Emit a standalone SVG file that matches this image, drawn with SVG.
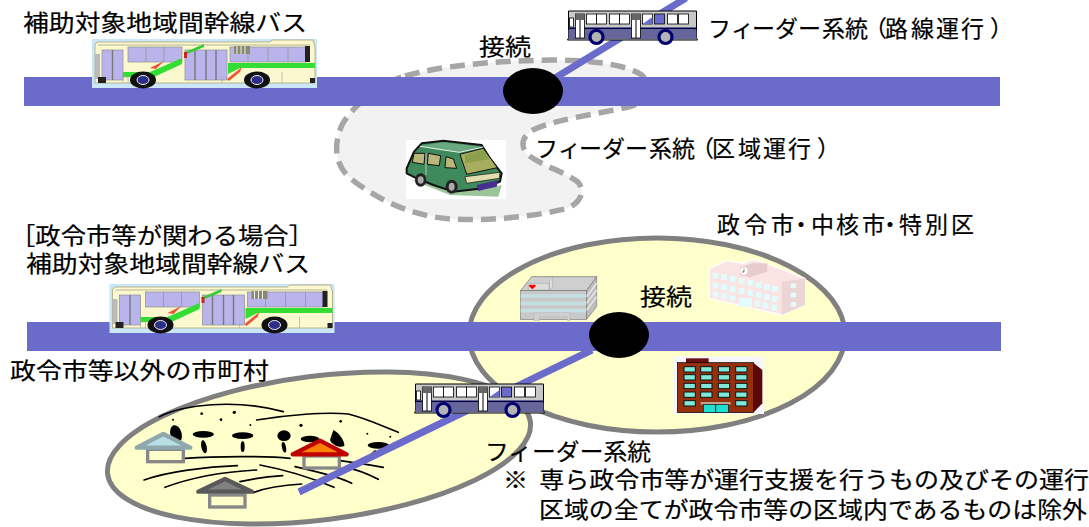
<svg xmlns="http://www.w3.org/2000/svg" width="1089" height="527" viewBox="0 0 1089 527">
<style>
text{font-family:"Noto Sans CJK JP","Noto Sans CJK SC",sans-serif;font-size:23px;fill:#000;stroke:#000;stroke-width:.2}
.route{fill:#6b6bcc}
.feeder{stroke:#6b6bcc;stroke-width:7;fill:none}
.junction{fill:#000}
.area{fill:#ffffcc;stroke:#808080;stroke-width:5}
.ln{fill:none;stroke:#000;stroke-width:5;stroke-linecap:round}
.win{fill:#fff;stroke:#000;stroke-width:.8}
.gw{fill:#b9b5ec;stroke:#8f8f8f;stroke-width:.7}
</style>
<defs>
<g id="trunkBus">
<rect width="225" height="49" fill="#cbe6f6"/>
<path d="M3,5 L6,3 L178,3 L180,1 L221,1 L223,8 L223,44 L3,44 Z" fill="#fbf7cf" stroke="#a9a57f" stroke-width=".8"/>
<path d="M6,6H218" stroke="#a9a57f" stroke-width=".8"/>
<rect x="36" y="8" width="54" height="15" class="gw"/>
<rect x="138" y="8" width="76" height="15" class="gw"/>
<path d="M54,8V23M72,8V23M156,8V23M176,8V23M196,8V23" stroke="#8f8f8f" stroke-width=".7"/>
<rect x="142" y="7" width="16" height="8" fill="#8a8a70"/>
<path d="M145,7V15M149,7V15M153,7V15" stroke="#eee" stroke-width="1"/>
<rect x="213" y="7" width="5" height="16" fill="#222"/>
<rect x="10" y="11" width="21" height="30" class="gw"/>
<rect x="93" y="11" width="42" height="30" class="gw"/>
<path d="M20.500,11V41M103,11V41M114,11V41M124,11V41" stroke="#777" stroke-width="1.400"/>
<path d="M136,24H223V29H148L136,35Z" fill="#33dd33"/>
<path d="M31,33L58,33L90,19V25L62,38L31,38Z" fill="#33dd33"/>
<path d="M58,29L72,22L64,30Z" fill="#ee5533"/>
<path d="M91,14L112,5L112,8L95,15Z" fill="#33cc33"/>
<path d="M135,40L150,28L148,33L137,42Z" fill="#ee5533"/>
<path d="M31,44V38H36V44M130,38V44M190,33V44M155,38V44" stroke="#aaa" stroke-width=".7" fill="none"/>
<path d="M3,15H8V40H3Z" fill="#bbb"/>
<rect x="6" y="38" width="8" height="6" fill="#222"/>
<rect x="218" y="39" width="5" height="5" fill="#222"/>
<rect x="92" y="13" width="3" height="6" fill="#c22"/>
<ellipse cx="51" cy="41" rx="13" ry="8.500" fill="#111"/>
<ellipse cx="51" cy="41" rx="6" ry="4.500" fill="#2d2d8a" stroke="#eee"/>
<ellipse cx="165" cy="41" rx="13" ry="8.500" fill="#111"/>
<ellipse cx="165" cy="41" rx="6" ry="4.500" fill="#2d2d8a" stroke="#eee"/>
</g>
<g id="feederBus">
<path d="M1,0H129V27L130,29H0L1,27Z" fill="#c8c8c8" stroke="#000" stroke-width="1"/>
<path d="M1,19H129V28H1Z" fill="#66669a"/>
<path d="M1,17.500H129" stroke="#000050" stroke-width="2"/>
<rect x="2" y="7" width="4" height="9" class="win"/>
<rect x="19" y="3" width="10" height="10" class="win"/><rect x="29" y="3" width="10" height="10" class="win"/>
<rect x="42" y="3" width="10" height="10" class="win"/><rect x="52" y="3" width="10" height="10" class="win"/>
<rect x="75" y="3" width="10" height="10" class="win"/><rect x="87" y="3" width="10" height="10" fill="#6b6bcc" stroke="#000" stroke-width=".8"/>
<path d="M75,13L85,6V13Z" fill="#6b6bcc"/>
<rect x="100" y="3" width="10" height="10" class="win"/><rect x="111" y="3" width="10" height="10" class="win"/>
<rect x="8" y="3" width="9" height="24" fill="#fff" stroke="#000" stroke-width=".8"/>
<rect x="64" y="3" width="9" height="24" fill="#fff" stroke="#000" stroke-width=".8"/>
<path d="M12.500,3V27M68.500,3V27" stroke="#000" stroke-width="1"/>
<path d="M8,3H17V9H8ZM64,3H73V9H64Z" fill="#666"/>
<circle cx="29" cy="26" r="6.500" fill="#b4b4b4" stroke="#000070" stroke-width="3.200"/>
<circle cx="98" cy="26" r="6.500" fill="#b4b4b4" stroke="#000070" stroke-width="3.200"/>
</g>
</defs>

<g id="area-demand">
<path d="M405,76 C440,66 490,61 550,60 C590,60 625,64 642,75 C650,85 650,100 632,106 C600,114 560,118 535,129 C522,135 520,146 527,154 C540,165 565,172 578,182 C586,192 580,204 565,209 C530,217 490,221 450,219 C410,216 375,198 350,178 C335,165 333,145 342,125 C350,110 375,85 405,76 Z" fill="#f2f2f2" stroke="#a6a6a6" stroke-width="5.500" stroke-dasharray="15 8"/>
</g>
<g id="area-city"><ellipse cx="657" cy="335" rx="188" ry="97" class="area"/></g>
<g id="area-town"><ellipse cx="319" cy="448" rx="213" ry="72" transform="rotate(-7 319 448)" class="area"/></g>

<g id="village" transform="translate(100 370) scale(.33333)">
<path class="ln" d="M178,140 C250,105 400,85 550,125"/>
<path class="ln" d="M470,150 C560,135 680,125 745,132 C800,145 850,170 895,187"/>
<path class="ln" d="M255,265 C350,258 500,258 570,265"/>
<path class="ln" d="M720,272 C770,278 810,285 850,292"/>
<path class="ln" d="M132,330 C200,305 320,290 412,287"/>
<path class="ln" d="M195,352 C280,320 380,305 470,300"/>
<path class="ln" d="M420,335 C450,328 500,320 548,317"/>
<path class="ln" d="M460,368 C500,352 550,345 605,342"/>
<path class="ln" d="M480,285 C560,300 650,330 702,352"/>
<path class="ln" d="M585,290 C650,305 720,320 755,340"/>
<path class="ln" d="M745,295 C780,300 810,315 835,328"/>
<g fill="#000">
<circle cx="305" cy="131" r="4"/><circle cx="403" cy="127" r="5"/><circle cx="363" cy="149" r="4"/><circle cx="219" cy="149" r="3"/><circle cx="451" cy="165" r="3"/><circle cx="603" cy="166" r="5"/><circle cx="722" cy="154" r="4"/><circle cx="802" cy="191" r="3"/><circle cx="871" cy="200" r="3"/>
<ellipse cx="228" cy="192" rx="17" ry="27" transform="rotate(-15 228 192)"/>
<ellipse cx="310" cy="193" rx="32" ry="10"/><ellipse cx="428" cy="197" rx="32" ry="10"/>
<ellipse cx="552" cy="197" rx="20" ry="16"/><ellipse cx="630" cy="207" rx="28" ry="10"/>
<path d="M700,180 C720,190 735,215 733,228 C720,235 695,225 690,210Z"/>
<ellipse cx="835" cy="226" rx="32" ry="10"/>
<ellipse cx="312" cy="230" rx="8" ry="20" transform="rotate(-12 312 230)"/>
<ellipse cx="428" cy="230" rx="6" ry="16"/><ellipse cx="552" cy="232" rx="6" ry="16" transform="rotate(-12 552 232)"/>
<path d="M800,262 L825,240 L830,244 L810,265Z"/>
</g>
<g id="house-teal"><rect x="143" y="238" width="107" height="37" fill="#ffffcc" stroke="#888" stroke-width="10"/><path d="M110,233 L190,192 L271,233Z" fill="#b8e0e4" stroke="#8fa8ad" stroke-width="13" stroke-linejoin="round"/></g>
<g id="house-red"><rect x="612" y="258" width="106" height="36" fill="#ffffcc" stroke="#888" stroke-width="10"/><path d="M578,253 L660,212 L740,253Z" fill="#ff8000" stroke="#c00000" stroke-width="13" stroke-linejoin="round"/></g>
<g id="house-gray"><rect x="329" y="375" width="106" height="36" fill="#ffffcc" stroke="#888" stroke-width="10"/><path d="M295,365 L375,327 L456,365Z" fill="#808080" stroke="#595959" stroke-width="13" stroke-linejoin="round"/></g>
</g>

<g id="van" transform="translate(400 135) scale(.33333)">
<rect x="18" y="15" width="300" height="177" fill="#fff"/>
<path d="M35,135 L250,165 L305,150 L295,185 L150,180Z" fill="#9cc49a"/>
<path d="M20,100 L42,50 L65,25 L130,17 L245,30 L270,70 L305,115 L300,140 L250,160 L160,170 L100,150 L50,130 L20,115Z" fill="#3f8a5c" stroke="#111" stroke-width="6" stroke-linejoin="round"/>
<path d="M62,32 L130,22 L242,35 L178,52 L110,44Z" fill="#6aa880"/>
<path d="M60,34 L178,52 L250,36" fill="none" stroke="#e8f2e8" stroke-width="3"/>
<path d="M42,55 L75,55 L72,88 L37,82Z M85,55 L122,62 L118,92 L82,88Z M138,65 L160,72 L170,100 L135,98Z" fill="#b9b77a" stroke="#111" stroke-width="3"/>
<path d="M180,58 L250,40 L292,98 L200,118Z" fill="#a8ae5e" stroke="#111" stroke-width="3"/>
<path d="M195,60 L250,44 L270,72 L195,85Z" fill="#8d9f4c"/>
<path d="M78,55V120" stroke="#e8f2e8" stroke-width="2"/>
<path d="M195,125 L300,112 L298,130 L200,145Z" fill="#e3dcae" stroke="#111" stroke-width="2"/>
<path d="M230,150 L295,135 L290,155 L235,168Z" fill="#46308f"/>
<ellipse cx="62" cy="135" rx="17" ry="20" fill="#222"/><ellipse cx="62" cy="135" rx="9" ry="11" fill="#aaa"/>
<ellipse cx="155" cy="155" rx="18" ry="21" fill="#222"/><ellipse cx="155" cy="155" rx="9" ry="12" fill="#aaa"/>
</g>

<g id="hospital" transform="translate(460 230) scale(.33333)">
<path d="M182,182 L215,140 L410,140 L380,182Z" fill="#cfcfcf" stroke="#666" stroke-width="2"/>
<rect x="182" y="182" width="198" height="86" fill="#c8c8c8" stroke="#777" stroke-width="2"/>
<path d="M182,198H380M182,220H380M182,242H380" stroke="#c4dfe2" stroke-width="11"/>
<path d="M380,182 L410,140 V230 L380,268Z" fill="#bdbdbd" stroke="#777" stroke-width="2"/>
<path d="M380,200L410,160M380,220L410,180M380,240L410,200" stroke="#e6e6e6" stroke-width="5"/>
<path d="M205,160H268V180H205Z M268,180V148L278,142V172Z" fill="#dcdcdc" stroke="#888"/>
<path d="M217,178 L206,168 Q210,160 217,166 Q224,160 228,168Z" fill="#f00"/>
<path d="M222,248H330V272H322V260H238V272H222Z" fill="#d0d0d0" stroke="#aaa"/>
</g>

<g id="school" transform="translate(460 230) scale(.33333)">
<path d="M748,115 L800,92 L850,100 L880,88 L920,100 L1035,145 L1035,225 L965,255 L880,235 L748,205Z" fill="#fbe4e4" stroke="#fff" stroke-width="4"/>
<path d="M965,155 L1035,145 V225 L965,255Z" fill="#ecd5d5"/>
<path d="M840,112 L880,100 L922,100 V125 L870,142 L840,135Z" fill="#e6cccc"/>
<circle cx="852" cy="123" r="11" fill="#fff"/><path d="M852,116V126H846" stroke="#000" fill="none" stroke-width="1.500"/>
<g fill="#e2fbfd">
<rect x="758" y="128" width="17" height="18"/><rect x="784" y="132" width="17" height="18"/><rect x="810" y="138" width="17" height="18"/><rect x="836" y="144" width="17" height="18"/><rect x="862" y="150" width="17" height="18"/><rect x="888" y="156" width="17" height="18"/><rect x="912" y="162" width="17" height="18"/><rect x="936" y="168" width="17" height="18"/>
<rect x="758" y="158" width="17" height="18"/><rect x="784" y="162" width="17" height="18"/><rect x="810" y="168" width="17" height="18"/><rect x="836" y="174" width="17" height="18"/><rect x="862" y="180" width="17" height="18"/><rect x="888" y="186" width="17" height="18"/><rect x="912" y="192" width="17" height="18"/><rect x="936" y="198" width="17" height="18"/>
<rect x="758" y="186" width="17" height="17"/><rect x="784" y="190" width="17" height="17"/><rect x="810" y="196" width="17" height="17"/><rect x="836" y="204" width="40" height="26"/><rect x="884" y="212" width="17" height="18"/><rect x="908" y="218" width="17" height="18"/><rect x="934" y="224" width="17" height="18"/>
<rect x="992" y="160" width="16" height="14"/><rect x="992" y="188" width="16" height="14"/><rect x="992" y="216" width="16" height="14"/>
</g>
</g>

<g id="apartment" transform="translate(460 230) scale(.33333)">
<rect x="640" y="380" width="272" height="172" fill="#f6f6ff"/>
<rect x="678" y="385" width="68" height="16" fill="#6b1010"/>
<path d="M880,398 L907,420 V520 L880,548Z" fill="#5a0808"/>
<rect x="652" y="398" width="228" height="150" fill="#96300c" stroke="#000" stroke-width="2"/>
<g fill="#7fe8d8" stroke="#111" stroke-width="3">
<rect x="672" y="410" width="34" height="16"/><rect x="722" y="410" width="34" height="16"/><rect x="775" y="410" width="34" height="16"/><rect x="827" y="410" width="34" height="16"/>
<rect x="672" y="434" width="34" height="16"/><rect x="722" y="434" width="34" height="16"/><rect x="775" y="434" width="34" height="16"/><rect x="827" y="434" width="34" height="16"/>
<rect x="672" y="460" width="34" height="16"/><rect x="722" y="460" width="34" height="16"/><rect x="775" y="460" width="34" height="16"/><rect x="827" y="460" width="34" height="16"/>
<rect x="672" y="486" width="34" height="16"/><rect x="722" y="486" width="34" height="16"/><rect x="775" y="486" width="34" height="16"/><rect x="827" y="486" width="34" height="16"/>
<rect x="672" y="512" width="34" height="16"/><rect x="827" y="512" width="34" height="16"/>
</g>
<rect x="722" y="516" width="90" height="8" fill="#c0a090"/>
<rect x="730" y="524" width="75" height="24" fill="#1fe0d0" stroke="#111" stroke-width="2"/>
<path d="M767,524V548" stroke="#111" stroke-width="3"/>
</g>

<g id="connectors">
<rect class="route" x="24" y="77" width="976" height="29"/>
<rect class="route" x="27" y="322" width="974" height="29"/>
<path class="feeder" d="M555,78 L686,-2"/>
<path class="feeder" d="M592,350 L299,492"/>
</g>

<g id="bus-trunk-top"><use href="#trunkBus" x="92" y="39"/></g>
<g id="bus-trunk-bottom"><use href="#trunkBus" x="109.500" y="284"/></g>
<g id="bus-feeder-top"><use href="#feederBus" x="567.500" y="11"/></g>
<g id="bus-feeder-bottom"><use href="#feederBus" x="414.500" y="384"/></g>

<g id="junction-top"><ellipse class="junction" cx="533" cy="91" rx="30" ry="23"/></g>
<g id="junction-bottom"><ellipse class="junction" cx="619" cy="335" rx="30" ry="23"/></g>

<g id="labels">
<text x="23" y="31" textLength="284" lengthAdjust="spacingAndGlyphs">補助対象地域間幹線バス</text>
<text x="479" y="55" textLength="52" lengthAdjust="spacingAndGlyphs">接続</text>
<text x="708 731 752 775 798 822 845 864 885 911 936 961 990" y="37">フィーダー系統（路線運行）</text>
<text x="535 558 579 602 625 649 672 691 712 738 763 788 817" y="157">フィーダー系統（区域運行）</text>
<text x="717 744 771 789.500 811 836 862 878.500 899 925 951" y="233">政令市・中核市・特別区</text>
<text x="10" y="244" textLength="304" lengthAdjust="spacingAndGlyphs">［政令市等が関わる場合］</text>
<text x="26" y="272" textLength="284" lengthAdjust="spacingAndGlyphs">補助対象地域間幹線バス</text>
<text x="640" y="305" textLength="52" lengthAdjust="spacingAndGlyphs">接続</text>
<text x="10" y="379" textLength="259" lengthAdjust="spacingAndGlyphs">政令市等以外の市町村</text>
<text x="485" y="460" textLength="166" lengthAdjust="spacingAndGlyphs">フィーダー系統</text>
<text x="503" y="488" textLength="586" lengthAdjust="spacingAndGlyphs" xml:space="preserve">※  専ら政令市等が運行支援を行うもの及びその運行</text>
<text x="539" y="518" textLength="548" lengthAdjust="spacingAndGlyphs">区域の全てが政令市等の区域内であるものは除外</text>
</g>
</svg>
